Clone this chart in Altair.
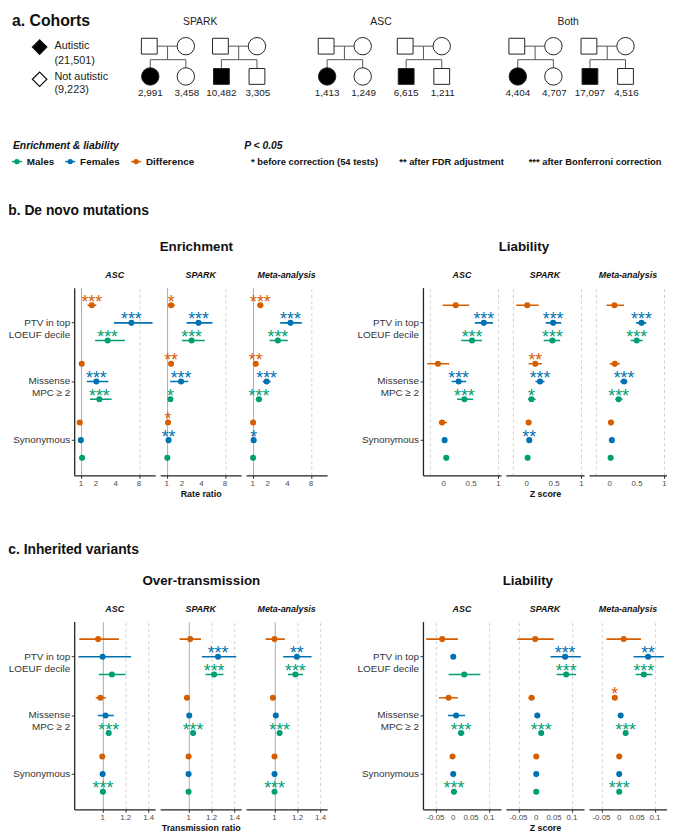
import altair as alt
import pandas as pd

# ---------------- data ----------------
cohorts = ["SPARK", "ASC", "Both"]
autistic_females = [2991, 1413, 4404]
unaffected_females = [3458, 1249, 4707]
autistic_males = [10482, 6615, 17097]
unaffected_males = [3305, 1211, 4516]
status_labels = ["Autistic", "Not autistic"]
status_totals = ["(21,501)", "(9,223)"]

studies = ["ASC", "SPARK", "Meta-analysis"]
variants = ["PTV in top\nLOEUF decile", "Missense\nMPC \u2265 2", "Synonymous"]
groups = ["Difference", "Females", "Males"]
legend_groups = ["Males", "Females", "Difference"]
sig_notes = ["* before correction (54 tests)", "** after FDR adjustment",
             "*** after Bonferroni correction"]

# axis breaks (grid lines) and labelled ticks
enrich_grid, enrich_ticks = [1, 2, 4, 8], [1, 2, 4, 8]
liab_dn_grid, liab_dn_ticks = [-0.25, 0, 0.25, 0.5, 0.75, 1], [0, 0.5, 1]
trans_grid, trans_ticks = [1, 1.2, 1.4], [1, 1.2, 1.4]
liab_inh_grid, liab_inh_ticks = [-0.05, 0, 0.05, 0.1], [-0.05, 0, 0.05, 0.1]

# order of every list: study -> variant -> group (Difference, Females, Males)
enrich_est = [1.69, 6.46, 3.08, 1.05, 2.04, 2.29, 0.94, 1.00, 1.07,
              1.25, 3.63, 2.88, 1.25, 1.94, 1.21, 1.07, 1.10, 1.03,
              1.46, 4.39, 2.91, 1.17, 1.91, 1.37, 1.02, 1.05, 1.02]
enrich_lo = [1.40, 3.80, 1.94, 0.95, 1.35, 1.57, 0.90, 0.96, 1.02,
             1.05, 2.40, 2.00, 1.10, 1.19, 1.05, 1.02, 1.05, 0.99,
             1.28, 3.15, 2.15, 1.05, 1.62, 1.17, 0.99, 1.02, 0.99]
enrich_hi = [2.04, 11.6, 5.32, 1.15, 3.15, 3.52, 0.98, 1.04, 1.12,
             1.50, 5.59, 4.44, 1.40, 2.55, 1.35, 1.12, 1.15, 1.07,
             1.66, 6.16, 4.04, 1.30, 2.23, 1.58, 1.05, 1.08, 1.05]
enrich_sig = ["***", "***", "***", "", "***", "***", "", "", "",
              "*", "***", "***", "**", "***", "*", "*", "**", "",
              "***", "***", "***", "**", "***", "***", "", "*", ""]

liab_dn_est = [0.22, 0.733, 0.517, -0.105, 0.273, 0.378, -0.03, 0.017, 0.047,
               0.01, 0.483, 0.47, 0.157, 0.244, 0.087, 0.035, 0.047, 0.017,
               0.087, 0.581, 0.494, 0.093, 0.262, 0.163, 0.023, 0.04, 0.017]
liab_dn_lo = [-0.02, 0.57, 0.32, -0.30, 0.145, 0.244, -0.09, -0.01, 0.02,
              -0.19, 0.35, 0.31, 0.035, 0.16, 0.023, 0.01, 0.025, -0.005,
              -0.058, 0.483, 0.384, 0.0, 0.19, 0.105, 0.0, 0.02, 0.0]
liab_dn_hi = [0.465, 0.90, 0.70, 0.10, 0.41, 0.535, 0.06, 0.045, 0.075,
              0.22, 0.63, 0.61, 0.28, 0.325, 0.163, 0.06, 0.07, 0.04,
              0.26, 0.669, 0.605, 0.186, 0.326, 0.233, 0.045, 0.06, 0.035]
liab_dn_sig = ["", "***", "***", "", "***", "***", "", "", "",
               "", "***", "***", "**", "***", "*", "", "**", "",
               "", "***", "***", "", "***", "***", "", "", ""]

trans_est = [0.961, 1.0, 1.081, 0.981, 1.025, 1.053, 0.997, 1.0, 1.003,
             1.014, 1.256, 1.222, 0.986, 1.006, 1.039, 1.0, 1.0, 1.0,
             1.0, 1.194, 1.181, 0.986, 1.011, 1.044, 1.0, 1.0, 1.0]
trans_lo = [0.797, 0.79, 0.967, 0.94, 0.958, 1.04, 0.99, 0.993, 0.996,
            0.922, 1.117, 1.147, 0.975, 0.995, 1.03, 0.995, 0.995, 0.995,
            0.922, 1.075, 1.117, 0.977, 1.002, 1.036, 0.995, 0.995, 0.995]
trans_hi = [1.142, 1.247, 1.20, 1.028, 1.097, 1.066, 1.004, 1.007, 1.01,
            1.108, 1.414, 1.303, 0.997, 1.017, 1.048, 1.005, 1.005, 1.005,
            1.089, 1.322, 1.247, 0.995, 1.02, 1.052, 1.005, 1.005, 1.005]
trans_sig = ["", "", "", "", "", "***", "", "", "***",
             "", "***", "***", "", "", "***", "", "", "",
             "", "**", "***", "", "", "***", "", "", "***"]

liab_inh_est = [-0.031, 0.0, 0.031, -0.013, 0.008, 0.022, -0.002, 0.0, 0.002,
                -0.003, 0.081, 0.084, -0.013, 0.003, 0.014, 0.0, 0.0, 0.0,
                0.0125, 0.081, 0.069, -0.0125, 0.004, 0.018, 0.0, 0.0, 0.0]
liab_inh_lo = [-0.076, -0.002, -0.013, -0.04, -0.015, 0.013, -0.005, -0.002, -0.001,
               -0.053, 0.04, 0.057, -0.022, -0.004, 0.008, -0.002, -0.002, -0.002,
               -0.036, 0.04, 0.046, -0.02, -0.002, 0.012, -0.002, -0.002, -0.002]
liab_inh_hi = [0.013, 0.002, 0.076, 0.013, 0.033, 0.031, 0.001, 0.002, 0.005,
               0.049, 0.125, 0.112, -0.004, 0.01, 0.02, 0.002, 0.002, 0.002,
               0.061, 0.125, 0.093, -0.005, 0.01, 0.024, 0.002, 0.002, 0.002]
liab_inh_sig = ["", "", "", "", "", "***", "", "", "***",
                "", "***", "***", "", "", "***", "", "", "",
                "", "**", "***", "*", "", "***", "", "", "***"]

# ---------------- style ----------------
ORANGE, BLUE, GREEN = "#D55E00", "#0072B2", "#009E73"
FONT = "Liberation Sans"
PH = 190

# ---------------- panel a: pedigrees + legends ----------------
X0, TOP_W = 65, 599
YD, TOP_H = 165, 158
XS = alt.Scale(domain=[X0, X0 + TOP_W], nice=False, zero=False)
YS = alt.Scale(domain=[0, YD], nice=False, zero=False, reverse=True)
fam_layout = {"SPARK": (141, 213), "ASC": (320, 400), "Both": (513, 586)}
SP, PY, SY, CY, NY = 37, 33, 47.3, 65, 83

members, lines, counts, titles = [], [], [], []
for ci, c in enumerate(cohorts):
    f1, f2 = fam_layout[c]
    titles.append({"x": (f1 + f2 + SP) / 2 - 3, "y": 7.5, "t": c})
    for fi, fx in enumerate((f1, f2)):
        kid = "circle" if fi == 0 else "square"
        n = ((autistic_females[ci], unaffected_females[ci]) if fi == 0
             else (autistic_males[ci], unaffected_males[ci]))
        members += [
            {"x": fx, "y": PY, "shape": "square", "aff": "no"},
            {"x": fx + SP, "y": PY, "shape": "circle", "aff": "no"},
            {"x": fx + 1, "y": CY, "shape": kid, "aff": "yes"},
            {"x": fx + SP, "y": CY, "shape": kid, "aff": "no"},
        ]
        counts += [{"x": fx + 1, "y": NY, "t": f"{n[0]:,}"},
                   {"x": fx + SP + 1, "y": NY, "t": f"{n[1]:,}"}]
        mid = fx + SP / 2
        lines += [
            {"x": fx + 8, "x2": fx + SP - 9, "y": PY, "y2": PY},
            {"x": mid, "x2": mid, "y": PY, "y2": SY},
            {"x": fx + 1, "x2": fx + SP, "y": SY, "y2": SY},
            {"x": fx + 1, "x2": fx + 1, "y": SY, "y2": CY - 9},
            {"x": fx + SP, "x2": fx + SP, "y": SY, "y2": CY - 9},
        ]
mem_df = pd.DataFrame(members)
line_df = pd.DataFrame(lines)


def px(field="x"):
    return alt.X(f"{field}:Q", scale=XS, axis=None)


def py(field="y"):
    return alt.Y(f"{field}:Q", scale=YS, axis=None)


fill = alt.Fill("aff:N", scale=alt.Scale(domain=["yes", "no"], range=["black", "white"]), legend=None)
ped_lines = alt.Chart(line_df).mark_rule(color="#555", strokeWidth=1).encode(
    x=px(), x2="x2:Q", y=py(), y2="y2:Q")
sq = alt.Chart(mem_df[mem_df["shape"] == "square"]).mark_point(
    shape="square", size=256, filled=True, stroke="#222", strokeWidth=1, opacity=1
).encode(x=px(), y=py(), fill=fill)
cir = alt.Chart(mem_df[mem_df["shape"] == "circle"]).mark_point(
    shape="circle", size=310, filled=True, stroke="#222", strokeWidth=1, opacity=1
).encode(x=px(), y=py(), fill=fill)
cnt = alt.Chart(pd.DataFrame(counts)).mark_text(fontSize=10, color="#222").encode(
    x=px(), y=py(), text="t:N")
ctit = alt.Chart(pd.DataFrame(titles)).mark_text(fontSize=10.5, color="#222").encode(
    x=px(), y=py(), text="t:N")

status_df = pd.DataFrame({"x": [30, 30], "y": [34, 68], "aff": ["yes", "no"]})
dia = alt.Chart(status_df).mark_point(shape="diamond", size=215, filled=True, stroke="#111",
                                      strokeWidth=1.2, opacity=1).encode(x=px(), y=py(), fill=fill)
stat_txt = pd.DataFrame({"x": [45] * 4, "y": [33, 49, 65.3, 79.7],
                         "t": [status_labels[0], status_totals[0], status_labels[1], status_totals[1]]})
stat = alt.Chart(stat_txt).mark_text(fontSize=11, align="left", color="#222").encode(
    x=px(), y=py(), text="t:N")
head_a = alt.Chart(pd.DataFrame({"x": [2], "y": [6.5], "t": ["a. Cohorts"]})).mark_text(
    fontSize=16, fontWeight="bold", align="left", color="#111").encode(x=px(), y=py(), text="t:N")

leg_head = alt.Chart(pd.DataFrame({"x": [3, 237], "y": [139, 139],
                                   "t": ["Enrichment & liability", "P < 0.05"]})).mark_text(
    fontSize=10.5, fontWeight="bold", fontStyle="italic", align="left", color="#111"
).encode(x=px(), y=py(), text="t:N")
icon_x = [7, 61, 127.6]
icons = pd.DataFrame({"x": icon_x, "xl": [v - 5 for v in icon_x], "xr": [v + 5 for v in icon_x],
                      "y": [155] * 3, "g": legend_groups,
                      "lx": [v + 10 for v in icon_x]})
gcol = alt.Color("g:N", scale=alt.Scale(domain=groups, range=[ORANGE, BLUE, GREEN]), legend=None)
icon_r = alt.Chart(icons).mark_rule(strokeWidth=1.5).encode(x=px("xl"), x2="xr:Q", y=py(), color=gcol)
icon_p = alt.Chart(icons).mark_circle(size=30, opacity=1).encode(x=px(), y=py(), color=gcol)
icon_t = alt.Chart(icons).mark_text(fontSize=10, fontWeight="bold", align="left", color="#111").encode(
    x=px("lx"), y=py(), text="g:N")
sig_t = alt.Chart(pd.DataFrame({"x": [244, 394, 525], "y": [155] * 3, "t": sig_notes})).mark_text(
    fontSize=9.5, fontWeight="bold", align="left", color="#111").encode(x=px(), y=py(), text="t:N")

top = alt.layer(ped_lines, sq, cir, cnt, ctit, dia, stat, head_a, leg_head,
                icon_r, icon_p, icon_t, sig_t).properties(width=TOP_W, height=TOP_H)


# ---------------- forest panels ----------------
def build_df(est, lo, hi, sig):
    rows, i = [], 0
    for s in studies:
        for v in variants:
            for g in groups:
                rows.append({"study": s, "variant": v, "group": g,
                             "est": est[i], "lo": lo[i], "hi": hi[i], "sig": sig[i]})
                i += 1
    return pd.DataFrame(rows)


def make_axis(grid_vals, tick_vals, ref, title):
    test = f"datum.value == {ref}"
    lab_test = " || ".join(f"datum.value == {v}" for v in tick_vals)
    kw = dict(title=None)
    if title:
        kw = dict(title=title, titleFontSize=9, titleFontWeight="bold", titleColor="#111",
                  titlePadding=11)
    return alt.Axis(values=grid_vals, grid=True, labels=False,
                    gridDash={"condition": {"test": test, "value": []}, "value": [3, 3]},
                    gridColor={"condition": {"test": test, "value": "#ababab"}, "value": "#cfcfcf"},
                    gridWidth=1, tickSize=3,
                    tickColor={"condition": {"test": lab_test, "value": "#333"},
                               "value": "transparent"},
                    domainColor="#222", domainWidth=1.2, **kw)


Y_AXIS = alt.Axis(labelExpr="split(datum.label, '\\n')", labelFontSize=10,
                  labelColor="#333", labelLineHeight=12, tickSize=3, tickColor="#333",
                  domainColor="#222", domainWidth=1.3, labelPadding=1.5,
                  minExtent=66, maxExtent=66)


def forest_group(est, lo, hi, sig, scale, grid_vals, tick_vals, ref, xtitle, width,
                 gtitle, gdx):
    full = build_df(est, lo, hi, sig)
    tick_df = pd.DataFrame({"v": tick_vals, "t": [f"{v:g}" for v in tick_vals]})
    panels = []
    for k, s in enumerate(studies):
        df = full[full["study"] == s]
        y = alt.Y("variant:N", sort=variants, title=None,
                  scale=alt.Scale(paddingInner=0, paddingOuter=0.1),
                  axis=Y_AXIS if k == 0 else None)
        yo = alt.YOffset("group:N", sort=groups,
                         scale=alt.Scale(paddingInner=0, paddingOuter=0.16))
        color = alt.Color("group:N", scale=alt.Scale(domain=groups, range=[ORANGE, BLUE, GREEN]),
                          legend=None)
        axis = make_axis(grid_vals, tick_vals, ref, xtitle if k == 1 else None)
        base = alt.Chart(df)
        ci = base.mark_rule(strokeWidth=1.6, clip=True).encode(
            x=alt.X("lo:Q", scale=scale, axis=axis), x2="hi:Q", y=y, yOffset=yo, color=color)
        pt = base.mark_circle(size=38, opacity=1, clip=True).encode(
            x=alt.X("est:Q", scale=scale), y=y, yOffset=yo, color=color)
        st = base.mark_text(fontSize=18, baseline="alphabetic", dy=2.5).encode(
            x=alt.X("est:Q", scale=scale), y=y, yOffset=yo, text="sig:N", color=color)
        tl = alt.Chart(tick_df).mark_text(fontSize=8, color="#4d4d4d", baseline="middle").encode(
            x=alt.X("v:Q", scale=scale), y=alt.value(PH + 8.5), text="t:N")
        panels.append(alt.layer(ci, pt, st, tl).properties(
            width=width, height=PH,
            title=alt.Title(s, fontSize=9, fontWeight="bold", fontStyle="italic",
                            color="#111", anchor="middle", offset=8)))
    return alt.hconcat(*panels, spacing=5,
                       title=alt.Title(gtitle, fontSize=13.5, fontWeight="bold", color="#111",
                                       anchor="middle", offset=18, dx=gdx))


enrich = forest_group(enrich_est, enrich_lo, enrich_hi, enrich_sig,
                      alt.Scale(type="symlog", constant=1.3, domain=[0.66, 12.45], nice=False, zero=False),
                      enrich_grid, enrich_ticks, 1, "Rate ratio", 82, "Enrichment", 29)
liab_dn = forest_group(liab_dn_est, liab_dn_lo, liab_dn_hi, liab_dn_sig,
                       alt.Scale(domain=[-0.379, 1.047], nice=False, zero=False),
                       liab_dn_grid, liab_dn_ticks, 0, "Z score", 79, "Liability", 12)
trans = forest_group(trans_est, trans_lo, trans_hi, trans_sig,
                     alt.Scale(domain=[0.753, 1.457], nice=False, zero=False),
                     trans_grid, trans_ticks, 1, "Transmission ratio", 82, "Over-transmission", 34)
liab_inh = forest_group(liab_inh_est, liab_inh_lo, liab_inh_hi, liab_inh_sig,
                        alt.Scale(domain=[-0.085, 0.134], nice=False, zero=False),
                        liab_inh_grid, liab_inh_ticks, 0, "Z score", 79, "Liability", 16)

sec = dict(fontSize=14, fontWeight="bold", color="#111", anchor="start")
panel_b = alt.hconcat(enrich, liab_dn, spacing=30,
                      title=alt.Title("b. De novo mutations", offset=22, **sec))
panel_c = alt.hconcat(trans, liab_inh, spacing=30,
                      title=alt.Title("c. Inherited variants", offset=17, **sec))

chart = alt.vconcat(alt.vconcat(top, panel_b, spacing=33), panel_c, spacing=44).properties(
    padding={"left": 0, "top": 0, "right": 0, "bottom": 0}
).configure(font=FONT).configure_view(stroke=None).configure_text(font=FONT)

chart.save("out.html", embed_options={"renderer": "svg", "actions": False})
